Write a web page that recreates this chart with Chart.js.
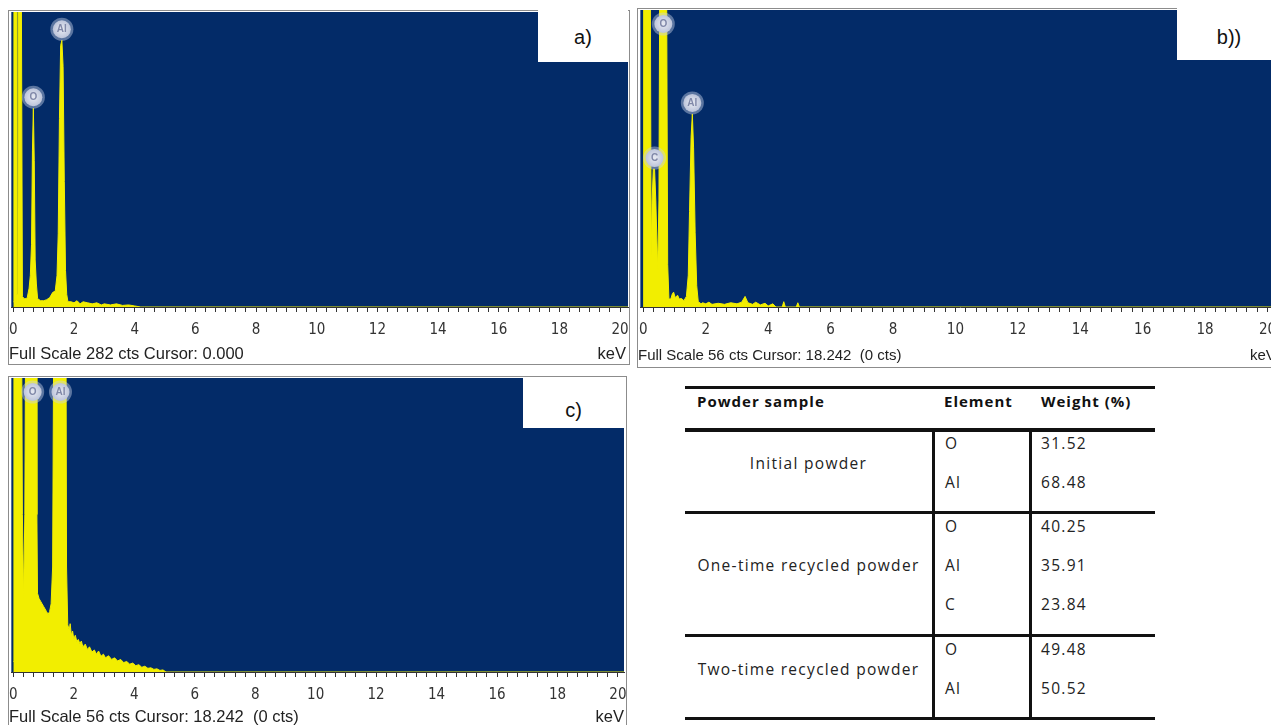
<!DOCTYPE html>
<html>
<head>
<title>EDS spectra of the powders</title>
<script src="https://cdn.jsdelivr.net/npm/chart.js"></script>
<style>
  body { margin: 0; width: 1271px; height: 725px; overflow: hidden; background: #fff; position: relative; font-family: 'Liberation Sans', Arial, sans-serif; }
  .frame { position: absolute; border: 1px solid #8c8c8c; }
  .plot { position: absolute; z-index: 2; }
  .foot { position: absolute; font-size: 16.5px; color: #222; line-height: 18px; z-index: 3; white-space: nowrap; }
  .tag { position: absolute; background: #fff; font-size: 20px; color: #111; text-align: center; z-index: 4; }
  .tbl { position: absolute; font-family: 'Open Sans', sans-serif; font-size: 15.5px; color: #222; letter-spacing: 1.3px; white-space: nowrap; transform: translateY(-50%); }
  .tbl.head { font-weight: 700; color: #111; font-size: 15px; letter-spacing: 1px; }
  .rule { position: absolute; background: #111; }
</style>
</head>
<body>
<div class="frame" style="left:8px; top:10px; width:620px; height:353px;"></div>
<div class="frame" style="left:637px; top:8px; width:660px; height:358px;"></div>
<div class="frame" style="left:8px; top:376px; width:617px; height:360px;"></div>

<canvas id="specA" class="plot" width="640" height="336" style="left:0px; top:12px;"></canvas>
<canvas id="specB" class="plot" width="660" height="338" style="left:630px; top:10px;"></canvas>
<canvas id="specC" class="plot" width="636" height="335" style="left:0px; top:378px;"></canvas>

<div class="foot" style="left:9px; top:344px;">Full Scale 282 cts Cursor: 0.000</div>
<div class="foot" style="right:645px; top:344px;">keV</div>
<div class="foot" style="left:638px; top:346px; font-size:15px;">Full Scale 56 cts Cursor: 18.242&nbsp; (0 cts)</div>
<div class="foot" style="left:1250px; top:346px; font-size:15px;">keV</div>
<div class="foot" style="left:9px; top:707px;">Full Scale 56 cts Cursor: 18.242&nbsp; (0 cts)</div>
<div class="foot" style="right:647px; top:707px;">keV</div>

<div class="tag" style="left:538px; top:0px; width:90px; height:62px; line-height:22px;"><div style="margin-top:26px;">a)</div></div>
<div class="tag" style="left:1177px; top:0px; width:94px; height:60px; line-height:22px;"><div style="margin-top:26px; padding-left:10px;">b))</div></div>
<div class="tag" style="left:523px; top:378px; width:101px; height:50px; line-height:22px;"><div style="margin-top:21px;">c)</div></div>

<div id="table"></div>

<script>
// ---- spectrum a) initial powder (full scale 282 cts) ----
const aKev = [0, 0.02, 0.09, 0.115, 0.15, 0.17, 0.26, 0.30, 0.36, 0.42, 0.46, 0.52, 0.56, 0.60, 0.63, 0.66, 0.69, 0.72, 0.76, 0.80,
  0.90, 1.00, 1.10, 1.20, 1.30, 1.38, 1.44, 1.48, 1.52, 1.56, 1.60, 1.64, 1.68, 1.72, 1.76, 1.80,
  1.90, 2.00, 2.10, 2.20, 2.30, 2.45, 2.60, 2.75, 2.90, 3.00, 3.20, 3.40, 3.60, 3.80, 4.00, 4.20, 20.3];
const aCts = [5, 340, 340, 12, 12, 340, 340, 10, 8, 8, 9, 18, 30, 60, 150, 190, 140, 45, 22, 8,
  6, 6, 7, 9, 14, 15, 30, 70, 180, 250, 255, 230, 120, 35, 12, 5,
  5, 4, 6, 3, 5, 4, 3, 4, 2, 3, 2, 3, 1.5, 2, 1, 0, 0];
const aPeakNames = ['O', 'Al'];
const aPeakKev = [0.66, 1.60];

// ---- spectrum b) one-time recycled powder (full scale 56 cts) ----
const bKev = [0, 0.01, 0.22, 0.25, 0.28, 0.32, 0.36, 0.40, 0.46, 0.50, 0.53, 0.74, 0.78, 0.82, 0.88, 0.93, 0.97, 1.02, 1.10, 1.15, 1.22, 1.30,
  1.38, 1.44, 1.48, 1.53, 1.57, 1.61, 1.66, 1.71, 1.76, 1.85, 1.90, 2.00, 2.10, 2.20, 2.40, 2.60, 2.80, 3.00, 3.15, 3.26, 3.35,
  3.50, 3.60, 3.75, 3.90, 4.00, 4.15, 4.25, 4.45, 4.50, 4.55, 4.90, 4.95, 5.00, 20.5];
const bCts = [0, 70, 70, 9.5, 20, 26, 26, 20, 7, 20, 70, 70, 8, 1.5, 1.5, 2.5, 2.8, 1.8, 2.2, 1.5, 1.6, 1.2,
  2, 6, 18, 32, 36.4, 30, 14, 4, 1, 0.6, 0.8, 0.6, 0.9, 0.5, 0.7, 0.5, 0.8, 0.6, 0.9, 2.0, 0.8,
  0.5, 0.9, 0.4, 0.7, 0.2, 0.6, 0, 0, 1.0, 0, 0, 0.8, 0, 0];
const bPeakNames = ['C', 'O', 'Al'];
const bPeakKev = [0.36, 0.64, 1.57];

// ---- spectrum c) two-time recycled powder (full scale 56 cts) ----
const cKev = [0, 0.02, 0.27, 0.30, 0.34, 0.38, 0.41, 0.76, 0.78, 0.80, 0.85, 0.90, 0.95, 1.00, 1.05, 1.10, 1.15, 1.20, 1.25, 1.30, 1.34, 1.74, 1.76,
  1.80, 1.85, 1.88, 1.92, 1.96, 2.00, 2.05, 2.10, 2.15, 2.20, 2.25, 2.30, 2.38, 2.45, 2.52, 2.60, 2.68, 2.75, 2.82, 2.90, 2.98,
  3.05, 3.15, 3.25, 3.35, 3.45, 3.55, 3.65, 3.75, 3.85, 3.95, 4.05, 4.15, 4.25, 4.35, 4.45, 4.55, 4.65, 4.75, 4.85, 4.95, 5.05, 20.3];
const cCts = [2, 70, 70, 30, 14, 30, 70, 70, 30, 15, 14, 13.5, 13, 12.5, 12, 11.5, 11, 11.5, 13, 20, 70, 70, 20,
  9, 8, 9.2, 7, 7.8, 6.3, 7, 5.8, 6.2, 5.4, 5.9, 4.8, 5.3, 4.3, 4.8, 3.8, 4.2, 3.4, 4.0, 3.0, 3.4,
  2.7, 3.1, 2.4, 2.7, 2.1, 2.4, 1.8, 2.0, 1.5, 1.7, 1.2, 1.4, 0.9, 1.1, 0.7, 0.8, 0.5, 0.6, 0.3, 0.4, 0, 0];
const cPeakNames = ['O', 'Al'];
const cPeakKev = [0.64, 1.56];

// x-axis labels in keV
const tickLabels = [0, 2, 4, 6, 8, 10, 12, 14, 16, 18, 20];

// ---- composition table ----
const tableHeaders = ['Powder sample', 'Element', 'Weight (%)'];
const sampleNames = ['Initial powder', 'One-time recycled powder', 'Two-time recycled powder'];
const sampleElements = [['O', 'Al'], ['O', 'Al', 'C'], ['O', 'Al']];
const sampleWeights = [['31.52', '68.48'], ['40.25', '35.91', '23.84'], ['49.48', '50.52']];

const YELLOW = '#f2ee00';
const NAVY = '#032b68';
const TICK_FONT = "'Liberation Sans Narrow', 'DejaVu Sans Condensed', 'Liberation Sans', Arial, sans-serif";

const navyBack = {
  id: 'navyBack',
  beforeDraw(chart) {
    const { ctx, chartArea: a } = chart;
    ctx.save();
    ctx.fillStyle = NAVY;
    ctx.fillRect(a.left, a.top, a.right - a.left, a.bottom - a.top);
    ctx.restore();
  }
};

// value of the spectrum at k (linear between points), or the max of points close to k
function peakHeight(pts, k) {
  let top = 0;
  for (let i = 0; i < pts.length - 1; i++) {
    const p = pts[i], q = pts[i + 1];
    if (p.x <= k && q.x >= k) {
      const t = q.x === p.x ? 0 : (k - p.x) / (q.x - p.x);
      top = Math.max(top, p.y + t * (q.y - p.y));
    }
    if (Math.abs(p.x - k) <= 0.05) top = Math.max(top, p.y);
  }
  return top;
}

const peakTags = {
  id: 'peakTags',
  afterDatasetsDraw(chart, args, opts) {
    const { ctx, chartArea, scales: { x, y } } = chart;
    const pts = chart.data.datasets[0].data;
    opts.names.forEach((name, i) => {
      const k = opts.kev[i];
      const top = peakHeight(pts, k);
      const px = x.getPixelForValue(k);
      const py = Math.max(chartArea.top + 14, y.getPixelForValue(top) - 11);
      ctx.save();
      ctx.beginPath();
      ctx.arc(px, py, 11.5, 0, Math.PI * 2);
      ctx.fillStyle = 'rgba(200,208,228,0.45)';
      ctx.fill();
      const g = ctx.createRadialGradient(px, py, 1, px, py, 9);
      g.addColorStop(0, '#e4e7f0');
      g.addColorStop(1, '#bcc4da');
      ctx.beginPath();
      ctx.arc(px, py, 9, 0, Math.PI * 2);
      ctx.fillStyle = g;
      ctx.fill();
      ctx.fillStyle = '#8088a8';
      ctx.font = 'bold 10px "Liberation Sans", Arial, sans-serif';
      ctx.textAlign = 'center';
      ctx.textBaseline = 'middle';
      ctx.fillText(name, px, py + 0.5);
      ctx.restore();
    });
  }
};

function drawSpectrum(id, kev, cts, fullScale, xMin, xMax, names, peakKev, padLeft, padRight) {
  new Chart(document.getElementById(id), {
    type: 'line',
    data: {
      datasets: [{
        data: kev.map((k, i) => ({ x: k, y: cts[i] })),
        borderColor: YELLOW,
        backgroundColor: YELLOW,
        borderWidth: 1,
        pointRadius: 0,
        fill: 'origin',
        tension: 0
      }]
    },
    options: {
      responsive: false,
      animation: false,
      layout: { padding: { left: padLeft, right: padRight, top: 0, bottom: 0 } },
      plugins: {
        legend: { display: false },
        tooltip: { enabled: false },
        peakTags: { names: names, kev: peakKev }
      },
      scales: {
        x: {
          type: 'linear',
          min: xMin,
          max: xMax,
          ticks: {
            stepSize: 1 / 3,
            includeBounds: false,
            autoSkip: false,
            maxRotation: 0,
            padding: 9,
            color: '#333',
            font: { family: TICK_FONT, size: 15 },
            callback: v => {
              const hit = tickLabels.find(t => Math.abs(t - v) < 0.01);
              return hit === undefined ? '' : String(hit);
            }
          },
          grid: { drawOnChartArea: false, tickLength: 5, color: '#333' },
          border: { color: '#333', width: 1 }
        },
        y: { display: false, min: 0, max: fullScale }
      }
    },
    plugins: [navyBack, peakTags]
  });
}

drawSpectrum('specA', aKev, aCts, 282, -0.066, 20.26, aPeakNames, aPeakKev, 10, 12);
drawSpectrum('specB', bKev, bCts, 56, -0.096, 20.4, bPeakNames, bPeakKev, 10, 10);
drawSpectrum('specC', cKev, cCts, 56, -0.066, 20.2, cPeakNames, cPeakKev, 10, 12);

// ---- build the table ----
const host = document.getElementById('table');
function rule(l, t, w, h) {
  const d = document.createElement('div');
  d.className = 'rule';
  Object.assign(d.style, { left: l + 'px', top: t + 'px', width: w + 'px', height: h + 'px' });
  host.appendChild(d);
}
function text(str, l, cy, cls, centerW) {
  const d = document.createElement('div');
  d.className = 'tbl ' + (cls || '');
  d.textContent = str;
  d.style.left = l + 'px';
  d.style.top = cy + 'px';
  if (centerW) { d.style.width = centerW + 'px'; d.style.textAlign = 'center'; }
  host.appendChild(d);
}
const colX = [685, 932, 1029, 1155];
rule(colX[0], 386, colX[3] - colX[0], 3);
rule(colX[0], 428, colX[3] - colX[0], 4);
text(tableHeaders[0], 697, 401, 'head');
text(tableHeaders[1], 944, 401, 'head');
text(tableHeaders[2], 1041, 401, 'head');
let gy = 430;
sampleNames.forEach((nm, g) => {
  const n = sampleElements[g].length;
  const first = gy + 13, last = first + 39 * (n - 1);
  text(nm, colX[0], (first + last) / 2, '', colX[1] - colX[0]);
  sampleElements[g].forEach((el, j) => {
    text(el, 945, first + 39 * j);
    text(sampleWeights[g][j], 1041, first + 39 * j);
  });
  gy += 40 * n + 3;
  rule(colX[0], gy - 2, colX[3] - colX[0], 3);
});
rule(colX[1], 430, 3, gy - 430);
rule(colX[2], 430, 3, gy - 430);
</script>
</body>
</html>
